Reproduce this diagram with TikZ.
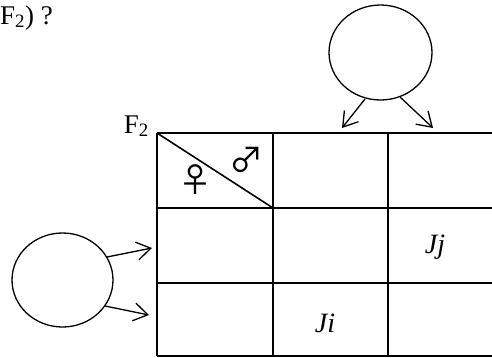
\documentclass[tikz,border=0pt]{standalone}
\usepackage{fontspec}
\setmainfont{Liberation Serif}
\newfontfamily\symfont{Noto Sans CJK JP}
\usetikzlibrary{shapes.geometric,arrows.meta}
\tikzset{
  parent/.style={draw,ellipse,line width=1.3pt,inner sep=0pt},
  gridline/.style={line width=1.6pt},
  gamete/.style={line width=1.3pt,-{Straight Barb[length=14pt,width=18pt,line width=1.3pt]}},
  lbl/.style={inner sep=0pt,font=\fontsize{27}{32}\selectfont},
  cell/.style={inner sep=0pt,font=\fontsize{28}{32}\selectfont\itshape},
  sex/.style={inner sep=0pt,font=\symfont\fontsize{34}{36}\selectfont},
}
\begin{document}
\begin{tikzpicture}[x=1pt,y=-1pt]
\useasboundingbox (0,0) rectangle (492,357);
\clip (0,0) rectangle (492,357);
% title fragment
\node[lbl,anchor=base west] (title) at (0,24) {F\textsubscript{2}) ?};
% parents
\node[parent,minimum width=103pt,minimum height=95pt] (top) at (380.5,52.5) {};
\node[parent,minimum width=101pt,minimum height=94pt] (left) at (62.5,280) {};
% grid coordinates
\coordinate (g00) at (157,133);
\coordinate (g10) at (273,133);
\coordinate (g20) at (388,133);
\coordinate (g30) at (500,133);
\coordinate (g01) at (157,208);
\coordinate (g11) at (273,208);
\coordinate (g31) at (500,208);
\coordinate (g02) at (157,283);
\coordinate (g32) at (500,283);
\coordinate (g03) at (157,356);
\coordinate (g13) at (273,356);
\coordinate (g23) at (388,356);
\coordinate (g33) at (500,356);
\draw[gridline] (g00) -- (g30);
\draw[gridline] (g01) -- (g31);
\draw[gridline] (g02) -- (g32);
\draw[gridline] (g03) -- (g33);
\draw[gridline] (g00) -- (g03);
\draw[gridline] (g10) -- (g13);
\draw[gridline] (g20) -- (g23);
\draw[gridline] (g00) -- (g11);
% F2 label
\node[lbl,anchor=base east] (f2) at (149,133) {F\textsubscript{2}};
% sex symbols
\node[sex] (fem) at (195.5,180) {♀};
\node[sex] (mal) at (246,160) {♂};
% cell texts
\node[cell] (jj) at (435,247) {Jj};
\node[cell] (ji) at (325,323) {Ji};
% arrows
\coordinate (a1s) at (365,99);
\coordinate (a1e) at (342,128);
\coordinate (a2s) at (400,97);
\coordinate (a2e) at (433,128);
\coordinate (a3s) at (107,257);
\coordinate (a3e) at (152,248);
\coordinate (a4s) at (105,306);
\coordinate (a4e) at (149,315);
\draw[gamete] (a1s) -- (a1e);
\draw[gamete] (a2s) -- (a2e);
\draw[gamete] (a3s) -- (a3e);
\draw[gamete] (a4s) -- (a4e);
\end{tikzpicture}
\end{document}
